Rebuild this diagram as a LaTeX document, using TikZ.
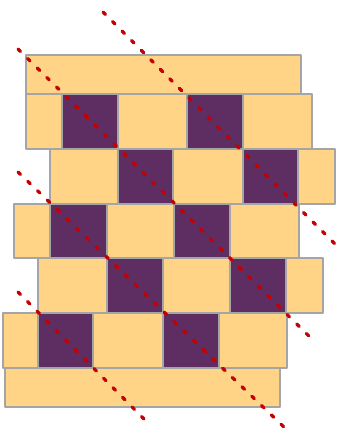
\documentclass[tikz,border=0pt]{standalone}
\definecolor{sand}{RGB}{255,212,135}
\definecolor{plum}{RGB}{94,45,97}
\definecolor{edge}{RGB}{165,165,165}
\definecolor{dotred}{RGB}{196,0,0}
\begin{document}
\begin{tikzpicture}[x=1pt,y=-1pt,line join=round,
	yel/.style={fill=sand,draw=edge,line width=1.3pt},
	pur/.style={fill=plum,draw=edge,line width=1.3pt},
	redline/.style={draw=dotred,line width=3.3pt,line cap=round,dash pattern=on 3.4pt off 10.1pt}]
					\useasboundingbox (0,0) rectangle (339,431);
					\draw[yel] (26,55) rectangle (301,94);
					\draw[yel] (26,94) rectangle (62,149);
					\draw[pur] (62,94) rectangle (118,149);
					\draw[yel] (118,94) rectangle (187,149);
					\draw[pur] (187,94) rectangle (243,149);
					\draw[yel] (243,94) rectangle (312,149);
					\draw[yel] (50,149) rectangle (118,204);
					\draw[pur] (118,149) rectangle (173,204);
					\draw[yel] (173,149) rectangle (243,204);
					\draw[pur] (243,149) rectangle (298,204);
					\draw[yel] (298,149) rectangle (335,204);
					\draw[yel] (14,204) rectangle (50,258);
					\draw[pur] (50,204) rectangle (107,258);
					\draw[yel] (107,204) rectangle (174,258);
					\draw[pur] (174,204) rectangle (230,258);
					\draw[yel] (230,204) rectangle (299,258);
					\draw[yel] (38,258) rectangle (107,313);
					\draw[pur] (107,258) rectangle (163,313);
					\draw[yel] (163,258) rectangle (230,313);
					\draw[pur] (230,258) rectangle (286,313);
					\draw[yel] (286,258) rectangle (323,313);
					\draw[yel] (3,313) rectangle (38,368);
					\draw[pur] (38,313) rectangle (93,368);
					\draw[yel] (93,313) rectangle (163,368);
					\draw[pur] (163,313) rectangle (219,368);
					\draw[yel] (219,313) rectangle (287,368);
					\draw[yel] (5,368) rectangle (280,407);
					\draw[redline] (18,49) -- (315,342);
					\draw[redline] (103,12) -- (337,246);
					\draw[redline] (18,172) -- (285,428);
					\draw[redline] (18,292) -- (150,425);
				\end{tikzpicture}
\end{document}
